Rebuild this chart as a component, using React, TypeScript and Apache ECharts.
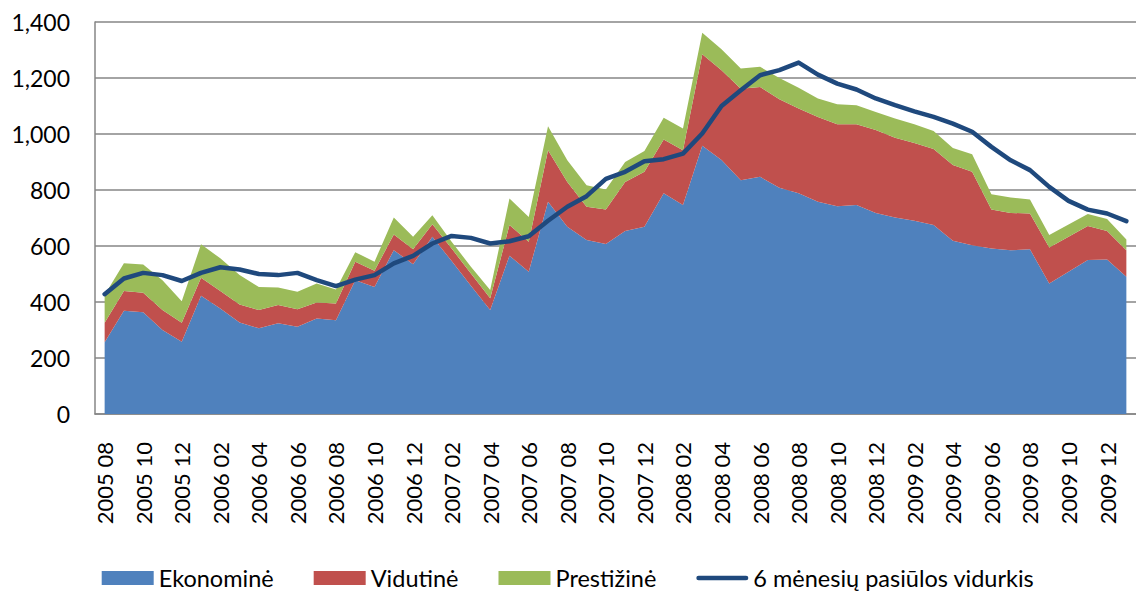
import React, { useEffect, useRef } from "react";
import * as echarts from "echarts";

const categories = [
  "2005 08", "2005 09", "2005 10", "2005 11", "2005 12",
  "2006 01", "2006 02", "2006 03", "2006 04", "2006 05", "2006 06", "2006 07", "2006 08", "2006 09", "2006 10", "2006 11", "2006 12",
  "2007 01", "2007 02", "2007 03", "2007 04", "2007 05", "2007 06", "2007 07", "2007 08", "2007 09", "2007 10", "2007 11", "2007 12",
  "2008 01", "2008 02", "2008 03", "2008 04", "2008 05", "2008 06", "2008 07", "2008 08", "2008 09", "2008 10", "2008 11", "2008 12",
  "2009 01", "2009 02", "2009 03", "2009 04", "2009 05", "2009 06", "2009 07", "2009 08", "2009 09", "2009 10", "2009 11", "2009 12",
  "2010 01",
];

// Ekonominė (bottom layer)
const ekonomine = [
  256, 369, 363, 300, 258, 422, 377, 327, 306, 324, 312, 341, 335, 478, 454, 585, 535,
  633, 546, 458, 371, 565, 508, 758, 669, 621, 607, 654, 669, 788, 746, 958, 907,
  835, 847, 808, 788, 758, 742, 746, 718, 702, 690, 675, 619, 603, 591, 585, 588,
  466, 508, 550, 552, 490,
];

// Vidutinė (middle layer thickness)
const vidutine = [
  70, 70, 70, 71, 68, 65, 62, 64, 65, 65, 62, 57, 60, 66, 58, 56, 53,
  45, 45, 44, 42, 110, 107, 184, 160, 119, 123, 175, 196, 192, 196, 327, 321,
  327, 321, 316, 303, 303, 293, 289, 296, 285, 278, 271, 270, 262, 139, 133, 128,
  129, 125, 121, 102, 95,
];

// Prestižinė (top layer thickness)
const prestizine = [
  99, 99, 101, 107, 77, 119, 117, 105, 83, 63, 63, 68, 50, 34, 32, 61, 45,
  32, 24, 24, 30, 95, 89, 86, 77, 77, 72, 71, 74, 78, 78, 77, 75,
  72, 72, 76, 74, 66, 71, 68, 65, 68, 67, 65, 61, 63, 55, 55, 50,
  44, 44, 43, 42, 38,
];

// 6 mėnesių pasiūlos vidurkis
const vidurkis = [
  428, 484, 504, 496, 475, 504, 524, 516, 500, 496, 504, 478, 457, 480, 496, 538, 565,
  609, 636, 629, 609, 617, 635, 690, 740, 778, 840, 865, 903, 910, 930, 1002, 1100,
  1156, 1210, 1228, 1255, 1212, 1180, 1159, 1127, 1103, 1081, 1061, 1037, 1008, 954, 906, 871,
  811, 761, 730, 716, 689,
];

const yTicks = { min: 0, max: 1400, interval: 200 };

const seriesNames = ["Ekonominė", "Vidutinė", "Prestižinė", "6 mėnesių pasiūlos vidurkis"];

const FONT = "Lato";

export default function App() {
  const ref = useRef<HTMLDivElement>(null);

  useEffect(() => {
    document.body.style.margin = "0";
    if (!ref.current) return;
    const chart = echarts.init(ref.current, undefined, { renderer: "svg" });
    const areaSeries = (name: string, data: number[], color: string) => ({
      name,
      type: "line",
      stack: "total",
      data,
      symbol: "none",
      showSymbol: false,
      lineStyle: { width: 0, color },
      itemStyle: { color },
      areaStyle: { color, opacity: 1 },
      z: 2,
    });
    chart.setOption({
      animation: false,
      backgroundColor: "#ffffff",
      grid: { left: 95, top: 22, width: 1046, height: 392 },
      legend: {
        left: "center",
        top: 566,
        padding: 0,
        itemWidth: 52,
        itemHeight: 14,
        itemGap: 40,
        textStyle: { fontFamily: FONT, fontSize: 23.5, lineHeight: 24, color: "#000" },
        data: [
          { name: seriesNames[0], icon: "rect" },
          { name: seriesNames[1], icon: "rect" },
          { name: seriesNames[2], icon: "rect" },
          {
            name: seriesNames[3],
            icon: "path://M2.25,0 L49.75,0 A2.25,2.25 0 0 1 49.75,4.5 L2.25,4.5 A2.25,2.25 0 0 1 2.25,0 Z",
          },
        ],
      },
      xAxis: {
        type: "category",
        data: categories,
        boundaryGap: true,
        axisLine: { show: true, lineStyle: { color: "#868686", width: 1.5 } },
        axisTick: { show: false },
        axisLabel: {
          interval: 1,
          rotate: 90,
          margin: 28,
          fontFamily: FONT,
          fontSize: 22,
          color: "#000",
        },
        splitLine: { show: false },
      },
      yAxis: {
        type: "value",
        min: yTicks.min,
        max: yTicks.max,
        interval: yTicks.interval,
        axisLine: { show: true, lineStyle: { color: "#868686", width: 1.5 } },
        axisTick: { show: false },
        axisLabel: {
          margin: 25,
          fontFamily: FONT,
          fontSize: 23,
          color: "#000",
          formatter: (v: number) => v.toLocaleString("en-US"),
        },
        splitLine: { show: true, lineStyle: { color: "#868686", width: 1.5 } },
      },
      series: [
        areaSeries(seriesNames[0], ekonomine, "#4F81BD"),
        areaSeries(seriesNames[1], vidutine, "#C0504D"),
        areaSeries(seriesNames[2], prestizine, "#9BBB59"),
        {
          name: seriesNames[3],
          type: "line",
          data: vidurkis,
          symbol: "none",
          showSymbol: false,
          lineStyle: { width: 4.5, color: "#1F497D", cap: "round", join: "round" },
          itemStyle: { color: "#1F497D" },
          z: 5,
        },
      ],
    });
    return () => chart.dispose();
  }, []);

  return <div ref={ref} style={{ width: 1136, height: 593 }} />;
}
